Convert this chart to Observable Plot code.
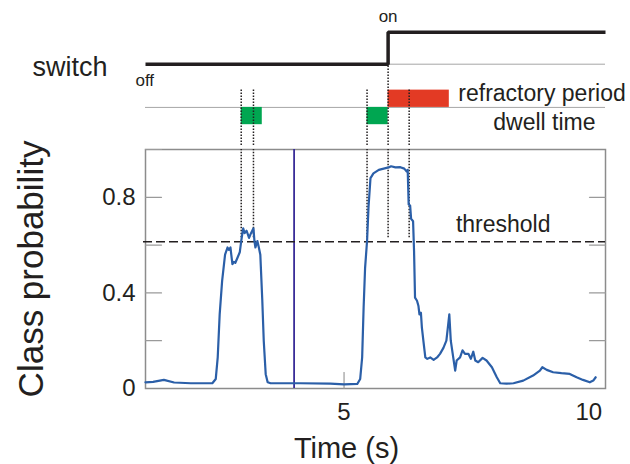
<!DOCTYPE html>
<html>
<head>
<meta charset="utf-8">
<script src="https://cdn.jsdelivr.net/npm/d3@7"></script>
<script src="https://cdn.jsdelivr.net/npm/@observablehq/plot@0.6"></script>
<style>
  body { margin: 0; background: #fff; }
  #chart svg { display: block; }
</style>
</head>
<body>
<div id="chart"></div>
<script>
// Classifier output over time (s)
const time = [0.944, 1.10, 1.32, 1.53, 1.87, 2.31, 2.38, 2.42, 2.46, 2.51, 2.57, 2.62, 2.65, 2.68, 2.72, 2.75, 2.78, 2.83, 2.87,
  2.90, 2.94, 2.97, 3.01, 3.06, 3.10, 3.15, 3.17, 3.19, 3.23, 3.26, 3.29, 3.33, 3.36, 3.40, 3.44, 3.50, 4.11, 4.72, 5.00,
  5.27, 5.33, 5.37, 5.40, 5.43, 5.47, 5.50, 5.54, 5.60, 5.71, 5.81, 5.91, 5.96, 6.05, 6.15, 6.23, 6.28, 6.30, 6.32, 6.35,
  6.37, 6.41, 6.43, 6.45, 6.49, 6.52, 6.54, 6.57, 6.59, 6.62, 6.66, 6.70, 6.76, 6.83, 6.90, 6.96, 7.03, 7.09, 7.12, 7.15,
  7.18, 7.23, 7.27, 7.30, 7.37, 7.42, 7.47, 7.54, 7.59, 7.64, 7.68, 7.74, 7.83, 7.91, 8.02, 8.12, 8.19, 8.32, 8.46, 8.66,
  8.86, 9.00, 9.05, 9.14, 9.27, 9.44, 9.61, 9.75, 9.88, 10.02, 10.09, 10.14];
const prob = [0.026, 0.028, 0.036, 0.025, 0.022, 0.022, 0.040, 0.13, 0.31, 0.45, 0.56, 0.59, 0.58, 0.59, 0.52, 0.53, 0.526, 0.55, 0.57,
  0.617, 0.67, 0.65, 0.66, 0.63, 0.65, 0.67, 0.617, 0.59, 0.617, 0.59, 0.56, 0.37, 0.20, 0.06, 0.026, 0.022, 0.022, 0.020, 0.017,
  0.019, 0.04, 0.13, 0.34, 0.505, 0.617, 0.76, 0.88, 0.90, 0.915, 0.92, 0.925, 0.93, 0.925, 0.926, 0.92, 0.908, 0.915, 0.77, 0.765,
  0.71, 0.70, 0.575, 0.38, 0.367, 0.345, 0.31, 0.317, 0.255, 0.20, 0.13, 0.124, 0.13, 0.12, 0.13, 0.145, 0.17, 0.20, 0.255, 0.31,
  0.20, 0.13, 0.075, 0.117, 0.13, 0.16, 0.145, 0.145, 0.124, 0.154, 0.117, 0.11, 0.128, 0.117, 0.089, 0.047, 0.022, 0.020, 0.022, 0.033,
  0.054, 0.075, 0.089, 0.078, 0.068, 0.064, 0.061, 0.047, 0.036, 0.026, 0.033, 0.047];

const threshold = 0.614;
const crossTimes = [2.90, 3.15, 5.47, 5.90, 6.33];   // threshold crossings and switch event
const dwellStart = [2.90, 5.47];
const dwellEnd = [3.33, 5.90];
const refractoryStart = [5.90];
const refractoryEnd = [7.15];
const switchTimes = [0.945, 5.90, 10.34];
const switchStates = ["off", "on", "on"];
const cursorTime = 3.98;

const yTickLabels = [0, 0.4, 0.8];
const yTicksLeft = [0.2, 0.4, 0.6, 0.8, 1.0];
const yTicksRight = [0.2, 0.4, 0.6, 0.8];
const xTickLabels = [5, 10];
const xTicks = [5];

const xDomain = [0.945, 10.34];
const W = 630, ML = 145, MR = 25;
const ink = "#231f20";
const gridGray = "#a6a6a6";
const font = "'Liberation Sans', Arial, sans-serif";

// lane levels of the event diagram
const level = {on: 2, off: 0, base: -2.7, bar: 1.08};
const stateLevel = s => level[s];

// short inward tick line for Plot.vector
const tickShape = {draw(context, l) { context.moveTo(0, 0); context.lineTo(0, -l); }};

const events = Plot.plot({
  width: W, height: 145,
  marginLeft: ML, marginRight: MR, marginTop: 0, marginBottom: 0,
  x: {domain: xDomain, axis: null},
  y: {domain: [-5.08, 3.98], axis: null},
  style: {fontFamily: font, color: ink, overflow: "visible"},
  marks: [
    Plot.ruleY([level.base], {stroke: gridGray, strokeWidth: 1}),
    Plot.ruleY([level.off], {x1: () => switchTimes[1], x2: () => xDomain[1], stroke: gridGray, strokeWidth: 1}),
    Plot.rect(dwellStart, {x1: d => d, x2: (d, i) => dwellEnd[i], y1: () => level.base - level.bar, y2: () => level.base, fill: "#00a651"}),
    Plot.rect(refractoryStart, {x1: d => d, x2: (d, i) => refractoryEnd[i], y1: () => level.base, y2: () => level.base + level.bar, fill: "#e33a24"}),
    Plot.ruleX(crossTimes, {
      y1: () => -5.08,
      y2: d => d === switchTimes[1] ? level.off : level.base + level.bar,
      stroke: ink, strokeWidth: 1.5, strokeDasharray: "1.5,1.5"
    }),
    Plot.line(switchTimes, {x: d => d, y: (d, i) => stateLevel(switchStates[i]), curve: "step-after",
      stroke: ink, strokeWidth: 3.5, strokeLinejoin: "miter", strokeLinecap: "butt"}),
    Plot.text(["switch"], {text: d => d, x: () => xDomain[0], y: () => level.off, dx: -38, dy: 3.4, textAnchor: "end", fontSize: 27, fill: ink}),
    Plot.text(["off"], {text: d => d, x: () => xDomain[0], y: () => level.off, dx: -10, dy: 16, textAnchor: "start", fontSize: 17, fill: ink}),
    Plot.text(["on"], {text: d => d, x: () => switchTimes[1], y: () => level.on, dy: -15.4, fontSize: 17, fill: ink}),
    Plot.text(["refractory period"], {text: d => d, x: () => refractoryEnd[0], y: () => level.base + level.bar / 2, dx: 9, dy: -5.4, textAnchor: "start", fontSize: 23, fill: ink}),
    Plot.text(["dwell time"], {text: d => d, x: () => xDomain[1], y: () => level.base - level.bar / 2, dx: -10, dy: 6.7, textAnchor: "end", fontSize: 23, fill: ink})
  ]
});

const main = Plot.plot({
  width: W, height: 319,
  marginLeft: ML, marginRight: MR, marginTop: 4, marginBottom: 76,
  x: {domain: xDomain},
  y: {domain: [0, 1]},
  style: {fontFamily: font, color: ink, overflow: "visible"},
  marks: [
    Plot.frame({stroke: "#8c8c8c", strokeWidth: 1.5}),
    Plot.vector(yTicksLeft, {x: () => xDomain[0], y: d => d, length: 16, rotate: 90, anchor: "start", shape: tickShape, stroke: "#9a9a9a", strokeWidth: 1.2}),
    Plot.vector(yTicksRight, {x: () => xDomain[1], y: d => d, length: 16, rotate: -90, anchor: "start", shape: tickShape, stroke: "#9a9a9a", strokeWidth: 1.2}),
    Plot.vector(xTicks, {x: d => d, y: () => 0, length: 16, rotate: 0, anchor: "start", shape: tickShape, stroke: "#9a9a9a", strokeWidth: 1.2}),
    Plot.axisY(yTickLabels, {tickSize: 0, tickPadding: 10, fontSize: 24, tickFormat: d => String(d), label: null, fill: ink}),
    Plot.axisX(xTickLabels, {tickSize: 0, tickPadding: 14, fontSize: 24, tickFormat: d => String(d), label: null, fill: ink}),
    Plot.ruleX([cursorTime], {stroke: "#3a2d98", strokeWidth: 1.8}),
    Plot.ruleX(crossTimes, {y1: () => threshold, y2: () => 1, insetTop: -4, stroke: ink, strokeWidth: 1.5, strokeDasharray: "1.5,1.5"}),
    Plot.ruleY([threshold], {stroke: ink, strokeWidth: 1.6, strokeDasharray: "9,4", insetLeft: -2}),
    Plot.line(time, {x: d => d, y: (d, i) => prob[i], stroke: "#2b5fa8", strokeWidth: 2.2}),
    Plot.text(["threshold"], {text: d => d, x: () => xDomain[1], y: () => threshold, dx: -55, dy: -17.4, textAnchor: "end", fontSize: 23, fill: ink}),
    Plot.text(["Time (s)"], {text: d => d, frameAnchor: "bottom", textAnchor: "middle", lineAnchor: "middle", dx: -29, dy: 60, fontSize: 29, fill: ink}),
    Plot.text(["Class probability"], {text: d => d, frameAnchor: "left", textAnchor: "middle", lineAnchor: "middle", rotate: -90, dx: -114, fontSize: 35, fill: ink})
  ]
});

const chart = document.getElementById("chart");
chart.append(events, main);
</script>
</body>
</html>
